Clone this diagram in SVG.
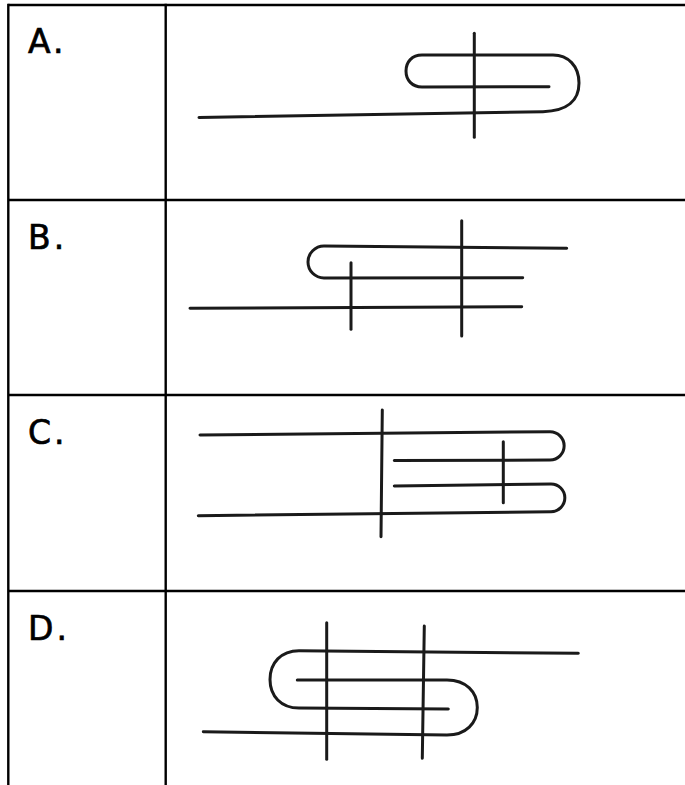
<svg xmlns="http://www.w3.org/2000/svg" width="685" height="785" viewBox="0 0 685 785">
<style>
.grid{stroke:#000;stroke-width:2.4;fill:none}
.wire{stroke:#1a1a1a;stroke-width:3;fill:none;stroke-linecap:round;stroke-linejoin:round}
.lbl{font-family:"DejaVu Sans","Liberation Sans",sans-serif;font-size:33px;fill:#000;stroke:#000;stroke-width:0.7px;letter-spacing:3px}
</style>
<rect width="685" height="785" fill="#fff"/>
<g id="table" class="grid">
<path d="M8.3 5 H685 M8.3 200 H685 M8.3 395 H685 M8.3 591 H685"/>
<path d="M8.3 3.8 V785 M165.7 3.8 V785"/>
</g>
<g id="labels">
<text class="lbl" x="28" y="53">A.</text>
<text class="lbl" x="28" y="248.5">B.</text>
<text class="lbl" x="28" y="443.5">C.</text>
<text class="lbl" x="28" y="639.5">D.</text>
</g>
<g id="panel-A" class="wire">
<path d="M199 117.5 L543 111.7 C568 111 579 100 579 83 C579 66 568 55 553 55 L422 55 C412 55 406 62 406 71 C406 80 412 87 422 87 L549 86.7"/>
<path d="M474.3 33.3 V137.3"/>
</g>
<g id="panel-B" class="wire">
<path d="M566.7 248.3 L324 246 A16 16 0 0 0 324 278 L522.7 277.7"/>
<path d="M190 308.3 L521.7 306.7"/>
<path d="M351 262.7 V329.3"/>
<path d="M461.7 220.7 V336"/>
</g>
<g id="panel-C" class="wire">
<path d="M200 435 L550 431.7 A14.15 14.15 0 0 1 550 460 L394.3 460.5"/>
<path d="M394.3 486 L551 484 A13.85 13.85 0 0 1 551 511.7 L198.3 515.7"/>
<path d="M382.3 410 L381 536.7"/>
<path d="M503.3 441.7 V502.7"/>
</g>
<g id="panel-D" class="wire">
<path d="M578.3 653.3 L299 650.7 C281 650.7 270 663 270 679.5 C270 696 281 708 299 708 L448.3 709"/>
<path d="M297.3 680 L447 680 C466 680 477.3 692 477.3 707.5 C477.3 723 466 735 447 735 L203.3 731.7"/>
<path d="M326.7 622.7 V759.3"/>
<path d="M424.3 626 L422.3 758.3"/>
</g>
</svg>
